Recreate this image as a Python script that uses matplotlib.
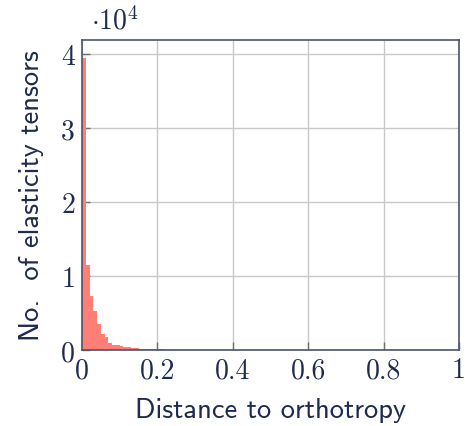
import numpy as np
import matplotlib
matplotlib.use("Agg")
import matplotlib.pyplot as plt

# histogram counts (x 10^4), bin width 0.01 starting at 0
bin_width = 0.01
counts = [3.94, 1.15, 0.73, 0.53, 0.35, 0.22, 0.17, 0.10, 0.07, 0.065,
          0.055, 0.045, 0.035, 0.03, 0.025, 0.02, 0.018, 0.015, 0.012, 0.01,
          0.008, 0.007, 0.006, 0.005, 0.004, 0.003, 0.002, 0.002, 0.001, 0.001]
edges = [i * bin_width for i in range(len(counts))]

xticks = [0, 0.2, 0.4, 0.6, 0.8, 1]
xticklabels = ["0", "0.2", "0.4", "0.6", "0.8", "1"]
yticks = [0, 1, 2, 3, 4]
yticklabels = ["0", "1", "2", "3", "4"]

text_col = "#1e2a50"
axis_col = "#4b546e"

fig = plt.figure(figsize=(4.65, 4.27), dpi=100)
ax = fig.add_axes([0.1763, 0.178, 0.8108, 0.726])

ax.bar(edges, counts, width=bin_width, align="edge", color="#ff7f76", linewidth=0, zorder=2)

ax.set_xlim(0, 1)
ax.set_ylim(0, 4.19)
ax.set_xticks(xticks)
ax.set_xticklabels(xticklabels, fontfamily="cmr10", fontsize=20, color=text_col)
ax.set_yticks(yticks)
ax.set_yticklabels(yticklabels, fontfamily="cmr10", fontsize=20, color=text_col)
ax.tick_params(direction="in", length=6, width=1, color="#707070", pad=5)
ax.grid(True, color="#c8c8c8", linewidth=1, zorder=0)
ax.set_axisbelow(True)
for s in ax.spines.values():
    s.set_color(axis_col)
    s.set_linewidth(1.2)

ax.set_xlabel("Distance to orthotropy", fontfamily="cmss10", fontsize=20.5, color=text_col, labelpad=10)
ax.set_ylabel("No.  of elasticity tensors", fontfamily="cmss10", fontsize=20.5, color=text_col, labelpad=12)

fig.text(0.195, 0.918, r"$\cdot 10^{4}$", fontsize=20, color=text_col,
         math_fontfamily="cm", ha="left", va="bottom")

fig.savefig("out.png", dpi=100)
